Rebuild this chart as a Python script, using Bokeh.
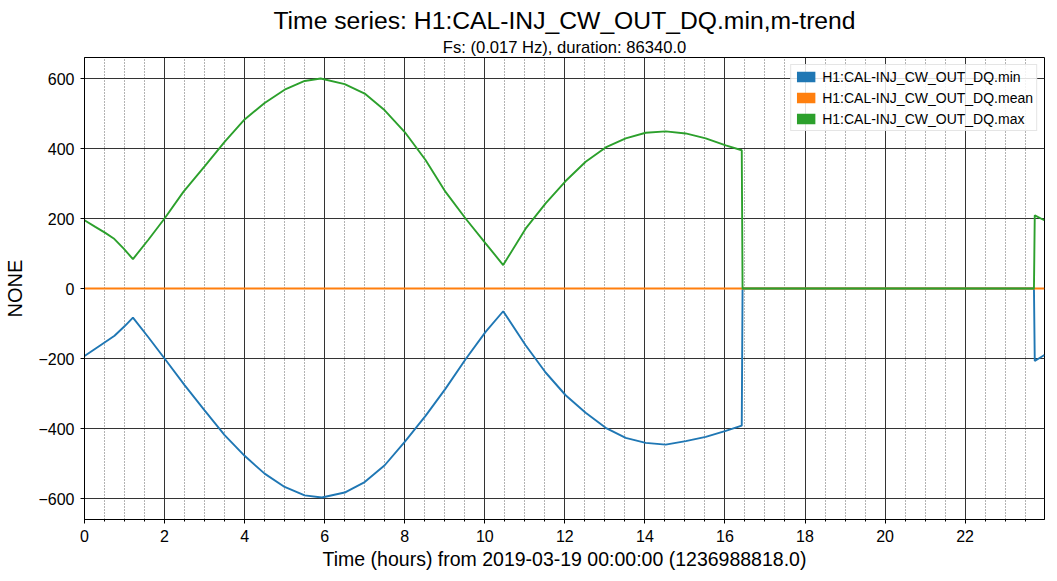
import math
from bokeh.plotting import figure
from bokeh.models import (Range1d, SingleIntervalTicker, Legend, LegendItem, Title,
                          ColumnDataSource)
from bokeh.embed import file_html
from bokeh.resources import INLINE

# ---- data (hours from 2019-03-19 00:00:00, values) ----
max_hours = [0.00, 0.27, 0.52, 0.73, 0.98, 1.21, 1.60, 2.00, 2.47, 3.00, 3.50, 4.00,
             4.50, 5.00, 5.50, 5.90, 6.50, 7.00, 7.50, 8.00, 8.52, 9.02, 9.52, 10.02,
             10.46, 11.02, 11.52, 12.02, 12.52, 13.02, 13.52, 14.02, 14.52, 15.02,
             15.52, 16.02, 16.42, 16.44, 23.72, 23.74, 23.98]
max_vals = [195, 176, 159, 143, 114, 84, 140, 200, 276, 349, 419, 483,
            530, 568, 593, 600, 584, 557, 509, 447, 367, 276, 200, 129,
            67, 171, 243, 307, 362, 403, 429, 445, 449, 443,
            429, 409, 395, 0, 0, 209, 195]

min_hours = [0.00, 0.27, 0.52, 0.75, 1.00, 1.21, 1.60, 2.00, 2.50, 3.00, 3.50, 4.00,
             4.50, 5.00, 5.50, 5.93, 6.50, 7.00, 7.50, 8.00, 8.52, 9.02, 9.52, 10.02,
             10.46, 11.02, 11.52, 12.02, 12.52, 13.02, 13.52, 14.02, 14.52, 15.02,
             15.52, 16.02, 16.42, 16.44, 23.72, 23.74, 23.98]
min_vals = [-193, -172, -153, -135, -108, -83, -140, -200, -276, -348, -419, -478,
            -529, -567, -591, -597, -583, -553, -505, -438, -364, -286, -202, -124,
            -65, -162, -240, -305, -355, -398, -427, -441, -446, -436,
            -424, -407, -392, 0, 0, -207, -190]

mean_hours = [0.00, 23.98]
mean_vals = [0, 0]

series_names = ["H1:CAL-INJ_CW_OUT_DQ.min", "H1:CAL-INJ_CW_OUT_DQ.mean",
                "H1:CAL-INJ_CW_OUT_DQ.max"]
series_colors = ["#1f77b4", "#ff7f0e", "#2ca02c"]

y_ticks = [-600, -400, -200, 0, 200, 400, 600]
y_tick_labels = ["\u2212600", "\u2212400", "\u2212200", "0", "200", "400", "600"]

title_text = "Time series: H1:CAL-INJ_CW_OUT_DQ.min,m-trend"
subtitle_text = "Fs: (0.017 Hz), duration: 86340.0"
x_label = "Time (hours) from 2019-03-19 00:00:00 (1236988818.0)"
y_label = "NONE"
duration_hours = 86340.0 / 3600.0

FONT = "Liberation Sans"

p = figure(width=1057, height=581, output_backend="svg", toolbar_location=None,
           x_range=Range1d(0, duration_hours), y_range=Range1d(-660, 660),
           min_border_left=84, min_border_right=13, min_border_bottom=62,
           min_border_top=57, title=None)
p.background_fill_color = "white"
p.border_fill_color = "white"
p.outline_line_color = "black"
p.outline_line_width = 1

# titles (subtitle first -> closest to frame)
sub = Title(text=subtitle_text, align="center", text_font=FONT, text_font_size="16.6px",
            text_font_style="normal", text_color="black", standoff=1)
p.add_layout(sub, "above")
main = Title(text=title_text, align="center", text_font=FONT, text_font_size="24.7px",
             text_font_style="normal", text_color="black", standoff=3)
p.add_layout(main, "above")

# axes
p.xaxis.ticker = SingleIntervalTicker(interval=2, num_minor_ticks=4)
p.yaxis.ticker = SingleIntervalTicker(interval=200, num_minor_ticks=0)
p.yaxis.major_label_overrides = dict(zip(y_ticks, y_tick_labels))
for ax in (p.xaxis, p.yaxis):
    ax.major_label_text_font = FONT
    ax.major_label_text_font_size = "16px"
    ax.major_label_text_color = "black"
    ax.axis_label_text_font = FONT
    ax.axis_label_text_font_style = "normal"
    ax.axis_label_text_color = "black"
    ax.axis_line_color = "black"
    ax.major_tick_line_color = "black"
    ax.minor_tick_line_color = "black"
    ax.major_tick_in = 0
    ax.major_tick_out = 4
    ax.minor_tick_in = 0
    ax.minor_tick_out = 2
    ax.major_label_standoff = 6
p.yaxis.major_label_standoff = 6
p.xaxis.axis_label = x_label
p.yaxis.axis_label = y_label
p.xaxis.axis_label_text_font_size = "19.5px"
p.yaxis.axis_label_text_font_size = "20px"
p.xaxis.axis_label_standoff = 3
p.yaxis.axis_label_standoff = 9

# grids
p.xgrid.grid_line_color = "#333333"
p.ygrid.grid_line_color = "#333333"
p.xgrid.grid_line_width = 1
p.ygrid.grid_line_width = 1
p.xgrid.minor_grid_line_color = "#666666"
p.xgrid.minor_grid_line_dash = "1 2"
p.xgrid.minor_grid_line_width = 1

# lines
lw = 1.9
p.line(min_hours, min_vals, line_color=series_colors[0], line_width=lw)
p.line(mean_hours, mean_vals, line_color=series_colors[1], line_width=lw)
p.line(max_hours, max_vals, line_color=series_colors[2], line_width=lw)

# legend swatches (quads with no visible extent)
nan = math.nan
items = []
for name, col in zip(series_names, series_colors):
    src = ColumnDataSource(dict(left=[nan], right=[nan], top=[nan], bottom=[nan]))
    r = p.quad(left="left", right="right", top="top", bottom="bottom", source=src,
               fill_color=col, line_color=None)
    items.append(LegendItem(label=name, renderers=[r]))

legend = Legend(items=items, location="top_right", margin=7, padding=3,
                spacing=4, glyph_width=23, glyph_height=13, label_height=17,
                label_standoff=5, label_text_font=FONT, label_text_font_size="14px",
                label_text_color="black", border_line_color="#cccccc",
                border_line_width=1, background_fill_color="white",
                background_fill_alpha=0.85)
p.add_layout(legend, "center")

open("out.html", "w").write(file_html(p, INLINE))
